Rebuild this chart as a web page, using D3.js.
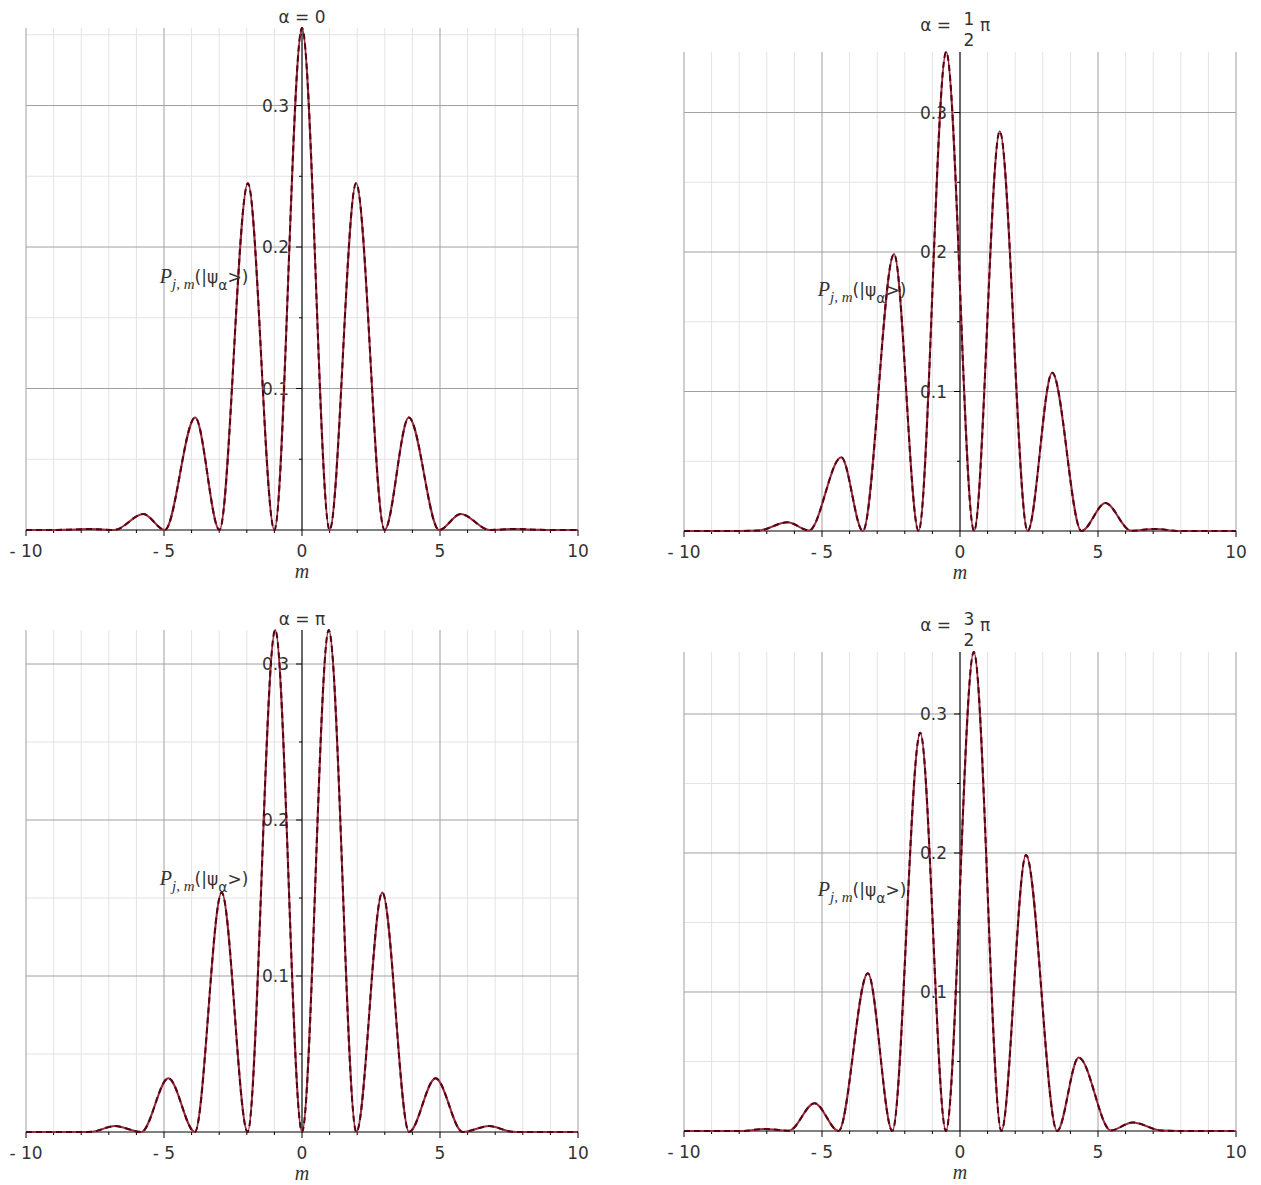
<!DOCTYPE html>
<html>
<head>
<meta charset="utf-8">
<script src="https://cdn.jsdelivr.net/npm/d3@7"></script>
<style>
  body { margin: 0; background: #fff; }
  text { font-family: "DejaVu Sans", Verdana, sans-serif; fill: #333; }
</style>
</head>
<body>
<svg id="chart" width="1261" height="1185"></svg>
<script>
// values: m positions of zeros / maxima and P at those points

// alpha = 0
var mAlpha0 = [-10, -9, -8.5, -7.7, -6.8, -5.75, -4.97, -3.87, -2.99, -1.96, -1.0, 0, 1.0, 1.96, 2.99, 3.87, 4.97, 5.75, 6.8, 7.7, 8.5, 9, 10];
var pAlpha0 = [0, 0, 0.0002, 0.0007, 0, 0.0113, 0, 0.0795, 0, 0.245, 0, 0.3548, 0, 0.245, 0, 0.0795, 0, 0.0113, 0, 0.0007, 0.0002, 0, 0];

// alpha = pi/2
var mAlphaHalf = [-10, -8, -7.3, -6.25, -5.47, -4.3, -3.52, -2.39, -1.5, -0.5, 0.51, 1.44, 2.45, 3.34, 4.4, 5.27, 6.2, 7.08, 7.9, 10];
var pAlphaHalf = [0, 0, 0.0003, 0.0062, 0.0004, 0.0528, 0, 0.1985, 0, 0.3434, 0, 0.2865, 0, 0.1135, 0, 0.020, 0.0002, 0.0015, 0, 0];

// alpha = pi
var mAlphaPi = [-10, -8, -7.6, -6.78, -5.82, -4.84, -3.88, -2.91, -1.97, -0.97, 0, 0.97, 1.97, 2.91, 3.88, 4.84, 5.82, 6.78, 7.6, 8, 10];
var pAlphaPi = [0, 0, 0.0002, 0.0038, 0, 0.0345, 0, 0.1535, 0, 0.3218, 0, 0.3218, 0, 0.1535, 0, 0.0345, 0, 0.0038, 0.0002, 0, 0];

// alpha = 3pi/2
var mAlpha3Half = [-10, -7.9, -7.08, -6.2, -5.27, -4.4, -3.34, -2.45, -1.44, -0.51, 0.5, 1.5, 2.39, 3.52, 4.3, 5.47, 6.25, 7.3, 8, 10];
var pAlpha3Half = [0, 0, 0.0015, 0.0002, 0.020, 0, 0.1135, 0, 0.2865, 0, 0.3446, 0, 0.1985, 0, 0.0528, 0.0004, 0.0062, 0.0003, 0, 0];

var xMajor = [-10, -5, 0, 5, 10];
var xTickLabels = ["- 10", "- 5", "0", "5", "10"];
var yMajor = [0.1, 0.2, 0.3];
var yTickLabels = ["0.1", "0.2", "0.3"];

var panels = [
  {m: mAlpha0,     p: pAlpha0,     left: 26,  right: 578,  top: 28,  bottom: 530,  title: {lhs: "α = ", rhs: "0"}},
  {m: mAlphaHalf,  p: pAlphaHalf,  left: 684, right: 1236, top: 52,  bottom: 531,  title: {lhs: "α =", num: "1", den: "2", rhs: "π"}},
  {m: mAlphaPi,    p: pAlphaPi,    left: 26,  right: 578,  top: 630, bottom: 1132, title: {lhs: "α = ", rhs: "π"}},
  {m: mAlpha3Half, p: pAlpha3Half, left: 684, right: 1236, top: 652, bottom: 1131, title: {lhs: "α =", num: "3", den: "2", rhs: "π"}}
];

var svg = d3.select("#chart");

panels.forEach(function(pn) {
  var data = pn.m.map(function(m, i) { return {m: m, p: pn.p[i]}; });
  var x = d3.scaleLinear().domain([-10, 10]).range([pn.left, pn.right]);
  var y = d3.scaleLinear().domain([0, d3.max(pn.p)]).range([pn.bottom, pn.top]);
  var g = svg.append("g");

  // minor grid
  var xMinor = d3.range(-10, 11, 1).filter(function(v) { return v % 5 != 0; });
  var yMinor = d3.range(0.05, d3.max(pn.p), 0.1);
  g.selectAll(".vmin").data(xMinor).enter().append("line")
    .attr("x1", function(d) { return x(d); }).attr("x2", function(d) { return x(d); })
    .attr("y1", pn.top).attr("y2", pn.bottom)
    .attr("stroke", "#e4e4e4").attr("stroke-width", 1);
  g.selectAll(".hmin").data(yMinor).enter().append("line")
    .attr("x1", pn.left).attr("x2", pn.right)
    .attr("y1", function(d) { return y(d); }).attr("y2", function(d) { return y(d); })
    .attr("stroke", "#e4e4e4").attr("stroke-width", 1);
  // major grid
  g.selectAll(".vmaj").data(xMajor).enter().append("line")
    .attr("x1", function(d) { return x(d); }).attr("x2", function(d) { return x(d); })
    .attr("y1", pn.top).attr("y2", pn.bottom)
    .attr("stroke", "#a0a0a0").attr("stroke-width", 1);
  g.selectAll(".hmaj").data(yMajor).enter().append("line")
    .attr("x1", pn.left).attr("x2", pn.right)
    .attr("y1", function(d) { return y(d); }).attr("y2", function(d) { return y(d); })
    .attr("stroke", "#a0a0a0").attr("stroke-width", 1);

  // x axis with unit ticks
  g.append("line").attr("x1", pn.left).attr("x2", pn.right)
    .attr("y1", y(0)).attr("y2", y(0)).attr("stroke", "#000");
  g.selectAll(".xt").data(d3.range(-10, 11, 1)).enter().append("line")
    .attr("x1", function(d) { return x(d); }).attr("x2", function(d) { return x(d); })
    .attr("y1", y(0)).attr("y2", function(d) { return y(0) + (d % 5 == 0 ? 6 : 3); })
    .attr("stroke", "#000");
  g.selectAll(".xl").data(xMajor).enter().append("text")
    .attr("x", function(d) { return x(d); }).attr("y", y(0) + 27)
    .attr("text-anchor", "middle").attr("font-size", 17)
    .text(function(d, i) { return xTickLabels[i]; });
  g.append("text").attr("x", x(0)).attr("y", y(0) + 48)
    .attr("text-anchor", "middle").attr("font-size", 20)
    .style("font-family", "'Liberation Serif', serif").style("font-style", "italic")
    .text("m");

  // y axis at m = 0
  g.append("line").attr("x1", x(0)).attr("x2", x(0))
    .attr("y1", pn.bottom).attr("y2", pn.top).attr("stroke", "#000");
  g.selectAll(".yt").data(d3.range(0.05, d3.max(pn.p), 0.05)).enter().append("line")
    .attr("x1", x(0)).attr("x2", function(d, i) { return x(0) - (i % 2 == 1 ? 6 : 3); })
    .attr("y1", function(d) { return y(d); }).attr("y2", function(d) { return y(d); })
    .attr("stroke", "#000");
  g.selectAll(".yl").data(yMajor).enter().append("text")
    .attr("x", x(0) - 13).attr("y", function(d) { return y(d) + 6; })
    .attr("text-anchor", "end").attr("font-size", 17)
    .text(function(d, i) { return yTickLabels[i]; });

  // curve
  var line = d3.line()
    .x(function(d) { return x(d.m); })
    .y(function(d) { return y(d.p); })
    .curve(d3.curveMonotoneX);
  g.append("path").datum(data).attr("d", line)
    .attr("fill", "none").attr("stroke", "#9a2a3e").attr("stroke-width", 2);
  g.append("path").datum(data).attr("d", line)
    .attr("fill", "none").attr("stroke", "#550312").attr("stroke-width", 2)
    .attr("stroke-dasharray", "6,4");

  // vertical axis label
  var mid = (pn.top + pn.bottom) / 2 + 4;
  var lab = g.append("text").attr("x", x(-5.15)).attr("y", mid).attr("font-size", 17);
  lab.append("tspan").style("font-family", "'Liberation Serif', serif").style("font-style", "italic")
    .attr("font-size", 20).text("P");
  lab.append("tspan").style("font-family", "'Liberation Serif', serif").style("font-style", "italic")
    .attr("font-size", 15).attr("dy", 6).text("j, m");
  lab.append("tspan").attr("dy", -6).text("(|ψ");
  lab.append("tspan").attr("dy", 7).attr("font-size", 14).text("α");
  lab.append("tspan").attr("dy", -7).text(">)");

  // title
  var cx = x(0);
  if (pn.title.num) {
    var tb = pn.top - 21;
    g.append("text").attr("x", cx - 9).attr("y", tb).attr("text-anchor", "end")
      .attr("font-size", 17).text(pn.title.lhs);
    g.append("text").attr("x", cx + 9).attr("y", tb - 6).attr("text-anchor", "middle")
      .attr("font-size", 17).text(pn.title.num);
    g.append("text").attr("x", cx + 9).attr("y", tb + 15).attr("text-anchor", "middle")
      .attr("font-size", 17).text(pn.title.den);
    g.append("text").attr("x", cx + 20).attr("y", tb).attr("text-anchor", "start")
      .attr("font-size", 17).text(pn.title.rhs);
  } else {
    g.append("text").attr("x", cx).attr("y", pn.top - 5).attr("text-anchor", "middle")
      .attr("font-size", 17).text(pn.title.lhs + pn.title.rhs);
  }
});
</script>
</body>
</html>
